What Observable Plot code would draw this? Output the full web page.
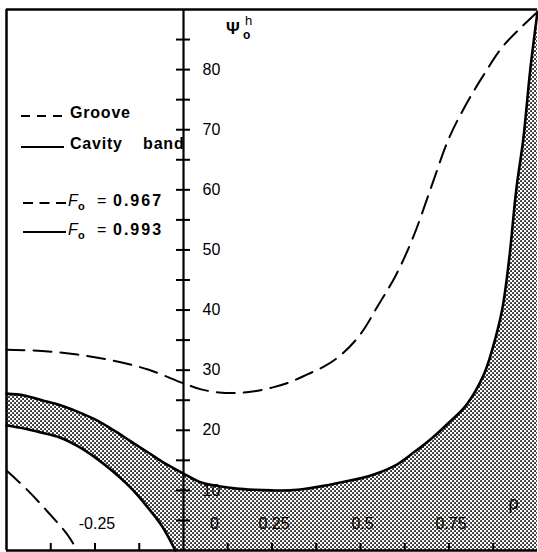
<!DOCTYPE html>
<html>
<head>
<meta charset="utf-8">
<script src="https://cdn.jsdelivr.net/npm/d3@7"></script>
<script src="https://cdn.jsdelivr.net/npm/@observablehq/plot@0.6"></script>
<style>
  html, body { margin: 0; padding: 0; background: #fff; }
  #chart { width: 538px; height: 552px; }
</style>
</head>
<body>
<div id="chart"></div>
<script>
// Dashed curve, F_o = 0.967 (groove)
const grooveRho = [-0.5, -0.4, -0.3, -0.2, -0.1, 0, 0.05, 0.1, 0.15, 0.2, 0.25, 0.3, 0.35, 0.4, 0.45, 0.5, 0.55, 0.6, 0.65, 0.7, 0.75, 0.8, 0.85, 0.9, 0.95, 1.0];
const groovePsi = [33.4, 33.2, 32.6, 31.6, 30.1, 27.8, 26.8, 26.3, 26.2, 26.5, 27.1, 28.0, 29.3, 30.7, 32.8, 36.0, 40.8, 45.8, 52.3, 60.5, 68.6, 74.4, 79.3, 83.7, 86.8, 89.6];

// Upper boundary of the cavity band, F_o = 0.993 (solid)
const bandRho = [-0.5, -0.45, -0.4, -0.35, -0.3, -0.25, -0.2, -0.15, -0.1, -0.05, 0, 0.05, 0.1, 0.15, 0.2, 0.25, 0.3, 0.35, 0.4, 0.45, 0.5, 0.55, 0.6, 0.65, 0.7, 0.75, 0.8, 0.85, 0.875, 0.9, 0.92, 0.94, 0.96, 0.98, 1.0];
const bandPsi = [26.1, 25.8, 25.0, 24.2, 23.1, 21.8, 20.1, 18.2, 16.3, 14.4, 12.8, 11.3, 10.7, 10.3, 10.1, 10.0, 10.0, 10.3, 10.8, 11.4, 12.0, 12.9, 14.2, 16.3, 18.6, 21.3, 24.3, 29.5, 34.0, 40.0, 48.5, 60.0, 68.5, 80.2, 89.6];

// Lower boundary of the cavity band on the negative side (solid)
const bandLowRho = [-0.5, -0.45, -0.4, -0.35, -0.3, -0.25, -0.2, -0.15, -0.1, -0.06, -0.023];
const bandLowPsi = [20.8, 20.3, 19.6, 18.8, 17.4, 15.5, 13.2, 10.5, 7.1, 4.0, 0];

// Dashed groove curve on the negative side
const grooveLowRho = [-0.5, -0.44, -0.38, -0.33, -0.3];
const grooveLowPsi = [13.3, 10.0, 6.2, 2.8, 0];

// Axis ticks and labels
const psiTicks = [5, 10, 15, 20, 25, 30, 35, 40, 45, 50, 55, 60, 65, 70, 75, 80, 85];
const psiLabels = [10, 20, 30, 40, 50, 60, 70, 80];
const rhoTicks = [-0.375, -0.25, -0.125, 0.125, 0.25, 0.375, 0.5, 0.625, 0.75, 0.875];
const rhoLabels = [-0.25, 0.25, 0.5, 0.75];
const rhoZeroLabel = ["0"];

// Legend entries
const legendLabels = ["Groove", "Cavity band"];
const foValues = ["0.967", "0.993"];

const toRows = (xs, ys) => xs.map((r, i) => ({rho: r, psi: ys[i]}));
const groove = toRows(grooveRho, groovePsi);
const band = toRows(bandRho, bandPsi);
const bandLow = toRows(bandLowRho, bandLowPsi);
const grooveLow = toRows(grooveLowRho, grooveLowPsi);

const font = "'Liberation Sans', Arial, Helvetica, sans-serif";
const curve = "catmull-rom";

const chart = Plot.plot({
  width: 538,
  height: 552,
  marginLeft: 6,
  marginRight: 1,
  marginTop: 9,
  marginBottom: 2,
  x: {domain: [-0.5, 1], axis: null},
  y: {domain: [0, 90], axis: null},
  style: {fontFamily: font, background: "white", color: "black"},
  marks: [
    // stippled region under the band's upper boundary
    Plot.areaY(band, {x: "rho", y: "psi", fill: "url(#halftone)", curve}),
    // clear area beneath the band's lower boundary
    Plot.areaY(bandLow, {x: "rho", y: "psi", fill: "white", curve}),
    Plot.line(band, {x: "rho", y: "psi", stroke: "black", strokeWidth: 2.6, curve}),
    Plot.line(bandLow, {x: "rho", y: "psi", stroke: "black", strokeWidth: 2.6, curve}),
    Plot.line(groove, {x: "rho", y: "psi", stroke: "black", strokeWidth: 2, strokeDasharray: "18,9", curve}),
    Plot.line(grooveLow, {x: "rho", y: "psi", stroke: "black", strokeWidth: 2, strokeDasharray: "18,9", curve}),
    // frame: left, top, bottom
    Plot.ruleX([-0.5], {stroke: "black", strokeWidth: 2.5}),
    Plot.ruleY([0], {stroke: "black", strokeWidth: 2.5}),
    Plot.ruleY([90], {stroke: "black", strokeWidth: 2.5}),
    // vertical axis at rho = 0
    Plot.ruleX([0], {stroke: "black", strokeWidth: 2.2}),
    Plot.ruleY(psiTicks, {y: d => d, x1: 0, x2: 0, insetLeft: -7, insetRight: -7, stroke: "black", strokeWidth: 2}),
    Plot.ruleX(rhoTicks, {x: d => d, y1: 0, y2: 0, insetTop: -7, stroke: "black", strokeWidth: 2}),
    Plot.text(psiLabels, {x: 0, y: d => d, text: d => String(d), dx: 19, textAnchor: "start", fontSize: 16}),
    Plot.text(rhoLabels, {x: d => d, y: 0, text: d => String(d), dx: 2, dy: -27, fontSize: 16}),
    Plot.text(rhoZeroLabel, {x: 0, y: 0, text: d => d, dx: 31, dy: -27, fontSize: 16}),
    Plot.text(["ρ"], {frameAnchor: "bottom-right", dx: -24, dy: -47, textAnchor: "middle", lineAnchor: "middle", fontSize: 18})
  ]
});

document.getElementById("chart").appendChild(chart);

const svg = d3.select(chart);

// halftone dot pattern
const pat = svg.insert("defs", ":first-child")
  .append("pattern")
  .attr("id", "halftone")
  .attr("patternUnits", "userSpaceOnUse")
  .attr("width", 4)
  .attr("height", 4);
pat.append("rect").attr("width", 4).attr("height", 4).attr("fill", "white");
pat.append("rect").attr("x", 0.2).attr("y", 0.2).attr("width", 1.7).attr("height", 1.7).attr("fill", "black");
pat.append("rect").attr("x", 2.2).attr("y", 2.2).attr("width", 1.7).attr("height", 1.7).attr("fill", "black");

// axis title  Ψ_o^h
const title = svg.append("text")
  .attr("font-family", font)
  .attr("font-weight", "bold")
  .attr("text-anchor", "start")
  .attr("fill", "black");
title.append("tspan").attr("x", 226).attr("y", 34).attr("font-size", 17).text("Ψ");
title.append("tspan").attr("x", 243).attr("y", 39).attr("font-size", 12).text("o");
title.append("tspan").attr("x", 245).attr("y", 25).attr("font-size", 13).attr("font-weight", "normal").text("h");

// legend
const legend = svg.append("g")
  .attr("font-family", font)
  .attr("font-weight", "bold")
  .attr("font-size", 16)
  .attr("text-anchor", "start")
  .attr("fill", "black");

const legendRows = [
  {text: legendLabels[0], dash: "9,7", y: 118},
  {text: legendLabels[1], dash: null, y: 149},
];
legendRows.forEach(r => {
  legend.append("line")
    .attr("x1", 21).attr("x2", 64)
    .attr("y1", r.y - 2).attr("y2", r.y - 2)
    .attr("stroke", "black").attr("stroke-width", 2)
    .attr("stroke-dasharray", r.dash);
  legend.append("text")
    .attr("x", 70).attr("y", r.y)
    .attr("letter-spacing", 0.8)
    .attr("word-spacing", 15)
    .text(r.text);
});

const foRows = [
  {value: foValues[0], dash: "10,6.5", y: 206},
  {value: foValues[1], dash: null, y: 235},
];
foRows.forEach(r => {
  legend.append("line")
    .attr("x1", 23).attr("x2", 66)
    .attr("y1", r.y - 3).attr("y2", r.y - 3)
    .attr("stroke", "black").attr("stroke-width", 2)
    .attr("stroke-dasharray", r.dash);
  const t = legend.append("text").attr("x", 68).attr("y", r.y);
  t.append("tspan").attr("font-style", "italic").attr("font-weight", "normal").text("F");
  t.append("tspan").attr("x", 78).attr("dy", 4).attr("font-size", 11).text("o");
  t.append("tspan").attr("x", 97).attr("dy", -4).attr("font-weight", "normal").text("=");
  t.append("tspan").attr("x", 113).attr("letter-spacing", 2).text(r.value);
});
</script>
</body>
</html>
